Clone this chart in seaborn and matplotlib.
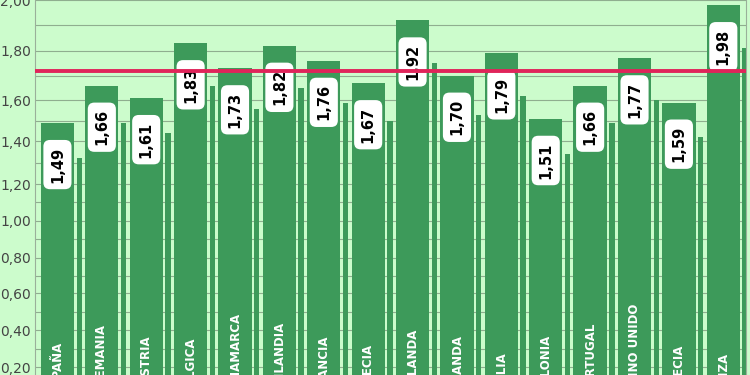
import numpy as np
import pandas as pd
import seaborn as sns
import matplotlib
matplotlib.use("Agg")
import matplotlib.pyplot as plt

paises = ["ESPAÑA", "ALEMANIA", "AUSTRIA", "BÉLGICA", "DINAMARCA", "FINLANDIA",
          "FRANCIA", "GRECIA", "HOLANDA", "IRLANDA", "ITALIA", "POLONIA",
          "PORTUGAL", "REINO UNIDO", "SUECIA", "SUIZA"]
valores = [1.49, 1.66, 1.61, 1.83, 1.73, 1.82, 1.76, 1.67, 1.92, 1.70,
           1.79, 1.51, 1.66, 1.77, 1.59, 1.98]
media = 1.72
y_ticks = [0.2, 0.4, 0.6, 0.8, 1.0, 1.2, 1.4, 1.6, 1.8, 2.0]

verde = "#3d9a5a"
fondo = "#ccfccc"

# the original axis is stretched towards the top: piecewise scale
knots = np.array([0.0, 0.2, 0.4, 0.6, 0.8, 1.0, 1.2, 1.4, 1.6, 1.8, 2.0, 2.2])
px = np.array([404, 367, 330, 293, 257, 220, 183, 140, 99, 49, -2, -52], dtype=float)


def fwd(v):
    return 404 - np.interp(v, knots, px)


def inv(u):
    return np.interp(404 - np.asarray(u), px[::-1], knots[::-1])


df = pd.DataFrame({"pais": paises, "valor": valores})

sns.set_style("white")
fig = plt.figure(figsize=(7.5, 3.75), dpi=100)
fig.patch.set_facecolor(fondo)
ax = fig.add_axes([0.047, 0.0, 0.947, 1.0])
ax.set_facecolor(fondo)
ax.set_yscale("function", functions=(fwd, inv))

# grid every 0.1 behind the bars
for y in np.arange(0.1, 2.05, 0.1):
    ax.axhline(y, color="#8fae8f", lw=0.8, zorder=0)

sns.barplot(data=df, x="pais", y="valor", color=verde, saturation=1,
            width=0.75, linewidth=0, edgecolor=verde, ax=ax, zorder=2)

# thin "shadow" strip to the right of each bar
x = np.arange(len(valores))
ax.bar(x + 0.49, np.array(valores) - 0.17, width=0.12, color=verde,
       linewidth=0, zorder=2)

for i, v in enumerate(valores):
    ax.annotate(f"{v:.2f}".replace(".", ","), (i, v), xytext=(0, -30),
                textcoords="offset points", rotation=90,
                ha="center", va="center", fontsize=10.5, fontweight="bold",
                color="black", zorder=4,
                bbox=dict(boxstyle="round,pad=0.45", fc="white", ec="none"))
    ax.text(i, 0.06, paises[i], rotation=90, rotation_mode="anchor",
            ha="left", va="center", fontsize=8.5, fontweight="bold",
            color="white", zorder=4)

ax.axhline(media, color="#e0245a", lw=2.8, zorder=5)

ax.set_xlim(-0.5, len(valores) - 0.5)
ax.set_ylim(0.157, 2.0)
ax.set_yticks(y_ticks)
ax.set_yticklabels([f"{t:.2f}".replace(".", ",") for t in y_ticks],
                   fontsize=10, color="#444444")
ax.tick_params(axis="y", length=0, pad=3)
ax.set_xticks([])
ax.set_xlabel("")
ax.set_ylabel("")
for s in ["top", "bottom"]:
    ax.spines[s].set_visible(False)
ax.spines["left"].set_color("#9ab09a")
ax.spines["right"].set_color("#9ab09a")

fig.savefig("out.png", dpi=100, facecolor=fondo)
